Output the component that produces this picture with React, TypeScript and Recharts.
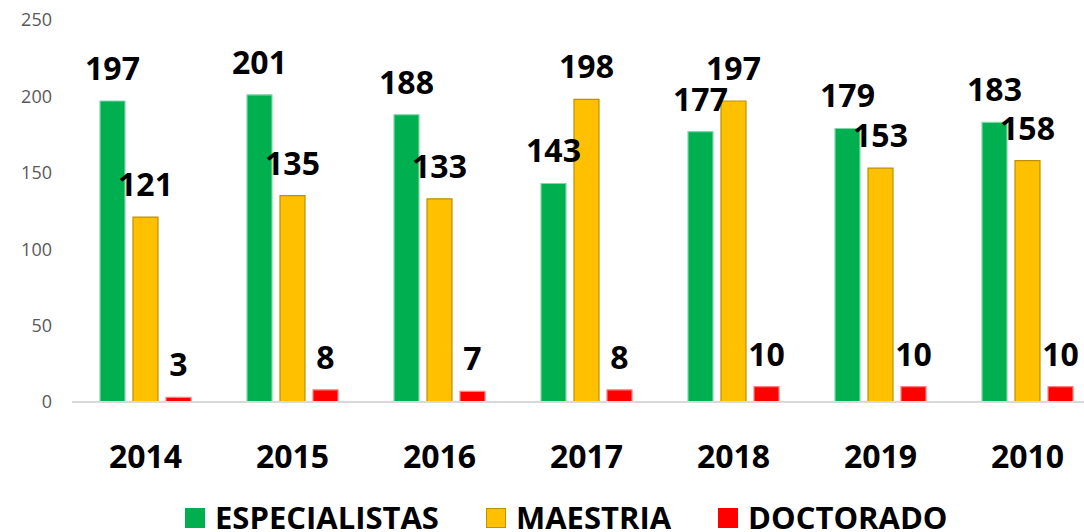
import { BarChart, Bar, XAxis, YAxis, Legend, LabelList } from 'recharts';

const years = ['2014', '2015', '2016', '2017', '2018', '2019', '2010'];
const especialistas = [197, 201, 188, 143, 177, 179, 183];
const maestria = [121, 135, 133, 198, 197, 153, 158];
const doctorado = [3, 8, 7, 8, 10, 10, 10];
const yTicks = [0, 50, 100, 150, 200, 250];

const seriesInfo = [
  { key: 'especialistas', name: 'ESPECIALISTAS', fill: '#00B050', stroke: '#7FD8A7' },
  { key: 'maestria', name: 'MAESTRIA', fill: '#FFC000', stroke: '#BF9000' },
  { key: 'doctorado', name: 'DOCTORADO', fill: '#FF0000', stroke: '#FF8080' },
];

const data = years.map((year, i) => ({
  year,
  especialistas: especialistas[i],
  maestria: maestria[i],
  doctorado: doctorado[i],
}));

const FONT = '"Open Sans", "Noto Sans", sans-serif';

// year labels under the axis, big and bold
function YearTick({ x, y, payload }: any) {
  return (
    <text x={x} y={y + 58} textAnchor="middle" fontFamily={FONT} fontWeight={700} fontSize={32} fill="#000">
      {payload.value}
    </text>
  );
}

function LegendRow() {
  return (
    <div style={{ display: 'flex', alignItems: 'center', height: 31, fontFamily: FONT, fontWeight: 700, fontSize: 31, color: '#000' }}>
      {seriesInfo.map((s) => (
        <div key={s.key} style={{ display: 'flex', alignItems: 'center', marginRight: 47 }}>
          <span
            style={{
              display: 'inline-block',
              width: 20,
              height: 20,
              background: s.fill,
              border: s.key === 'maestria' ? '1.5px solid #BF9000' : 'none',
              boxSizing: 'border-box',
              marginRight: 10,
            }}
          />
          <span style={{ lineHeight: '31px', whiteSpace: 'nowrap' }}>{s.name}</span>
        </div>
      ))}
    </div>
  );
}

export default function App() {
  return (
    <div style={{ position: 'absolute', left: 0, top: 0, width: 1084, height: 532, overflow: 'hidden', background: '#fff' }}>
      <BarChart
        width={1110}
        height={532}
        data={data}
        margin={{ top: 20, right: 9, left: 0, bottom: 0 }}
        barSize={25}
        barGap={8}
      >
        <XAxis
          dataKey="year"
          height={130}
          axisLine={{ stroke: '#D9D9D9', strokeWidth: 2 }}
          tickLine={false}
          tick={<YearTick />}
          interval={0}
        />
        <YAxis
          width={72}
          domain={[0, 250]}
          ticks={yTicks}
          axisLine={false}
          tickLine={false}
          tickMargin={14}
          tick={{ fill: '#595959', fontSize: 18, fontFamily: FONT }}
        />
        <Legend
          verticalAlign="middle"
          align="center"
          content={<LegendRow />}
          wrapperStyle={{ top: 502, left: 185, width: 900, height: 31 }}
        />
        {seriesInfo.map((s) => (
          <Bar
            key={s.key}
            dataKey={s.key}
            name={s.name}
            fill={s.fill}
            stroke={s.stroke}
            strokeWidth={1.2}
            isAnimationActive={false}
          >
            <LabelList
              dataKey={s.key}
              position="top"
              offset={21}
              fill="#000"
              fontSize={32}
              fontWeight={700}
              fontFamily={FONT}
            />
          </Bar>
        ))}
      </BarChart>
    </div>
  );
}
